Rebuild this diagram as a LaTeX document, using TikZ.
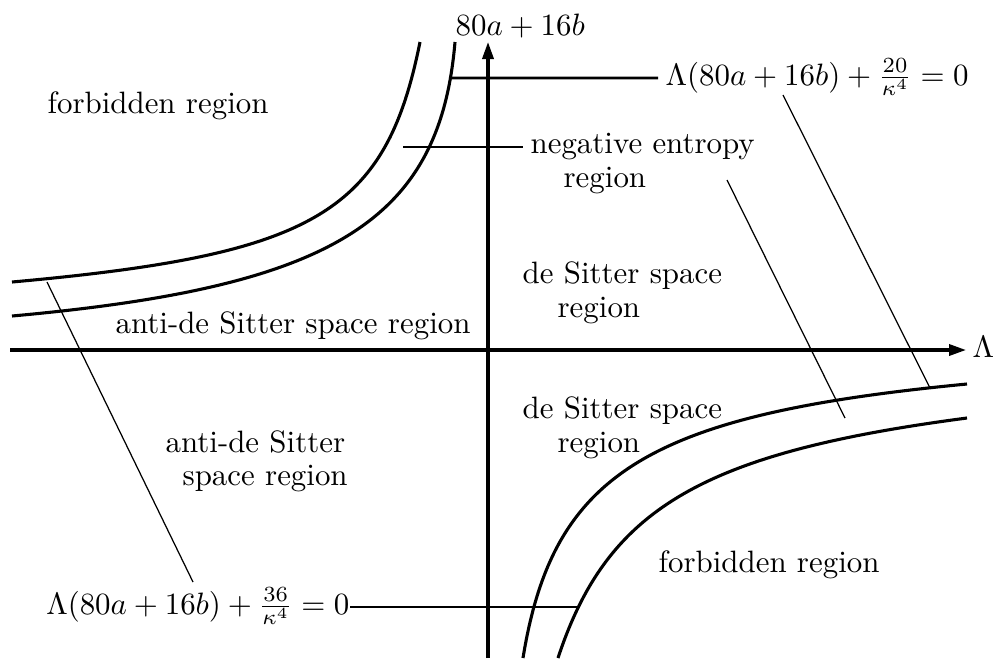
\documentclass[tikz,border=0pt]{standalone}
\usetikzlibrary{arrows.meta,intersections}
\begin{document}
\begin{tikzpicture}[x=0.3236pt,y=-0.3236pt,
  axis/.style={line width=1pt,-{Triangle[length=5.5pt,width=3.6pt]}},
  curve/.style={line width=1pt},
  leader/.style={line width=0.9pt},
  thinleader/.style={line width=0.4pt},
  lbl/.style={inner sep=0pt,anchor=base west}]
\useasboundingbox (0,0) rectangle (995,658);
% axes
\coordinate (xs) at (10,350);
\coordinate (xe) at (966,350);
\coordinate (ys) at (488,658);
\coordinate (ye) at (488,42);
\draw[axis] (xs) -- (xe);
\draw[axis] (ys) -- (ye);
\node[lbl] (lam) at (972,357) {$\Lambda$};
\node[lbl] (ylab) at (455,35) {$80a+16b$};
% curves
\draw[curve,name path=ulout] (420,42) .. controls (385.6,213.2) and (315,254.7) .. (12,282);
\draw[curve,name path=ulin] (455,42) .. controls (439.8,221.4) and (333,287) .. (12,316);
\draw[curve,name path=lrin] (967,384) .. controls (647.5,414.7) and (553,473) .. (523,658);
\draw[curve,name path=lrout] (967,418) .. controls (701,453) and (607,509) .. (558,658);
% helper paths for leader ends
\path[name path=h78] (300,78) -- (700,78);
\path[name path=h607] (300,607) -- (700,607);
\path[name intersections={of=ulin and h78,by=e20}];
\path[name intersections={of=lrout and h607,by=e36}];
% labels
\node[lbl] (eq20) at (665,85) {$\Lambda(80a+16b)+\frac{20}{\kappa^4}=0$};
\node[inner sep=0pt,anchor=base east] (eq36) at (350,614) {$\Lambda(80a+16b)+\frac{36}{\kappa^4}=0$};
\node[lbl] (forbA) at (47,113) {forbidden region};
\node[lbl] (negA) at (530,153) {negative entropy};
\node[lbl] (negB) at (563,187) {region};
\node[lbl] (dsA) at (522,283) {de Sitter space};
\node[lbl] (dsB) at (557,317) {region};
\node[lbl] (ads) at (115,333) {anti-de Sitter space region};
\node[lbl] (adsA) at (165,452) {anti-de Sitter};
\node[lbl] (adsB) at (182,485) {space region};
\node[lbl] (dsC) at (522,418) {de Sitter space};
\node[lbl] (dsD) at (557,452) {region};
\node[lbl] (forbB) at (658,572) {forbidden region};
% leaders
\coordinate (n1) at (403,147);
\coordinate (n2) at (523,147);
\draw[leader] (e20) -- (658,78);
\draw[leader] (n1) -- (n2);
\draw[leader] (eq36.east |- e36) -- (e36);
% thin leaders
\coordinate (t1a) at (783,95);
\coordinate (t1b) at (930,388);
\coordinate (t2a) at (727,180);
\coordinate (t2b) at (845,418);
\coordinate (t3a) at (47,282);
\coordinate (t3b) at (193,582);
\draw[thinleader] (t1a) -- (t1b);
\draw[thinleader] (t2a) -- (t2b);
\draw[thinleader] (t3a) -- (t3b);
\end{tikzpicture}
\end{document}
